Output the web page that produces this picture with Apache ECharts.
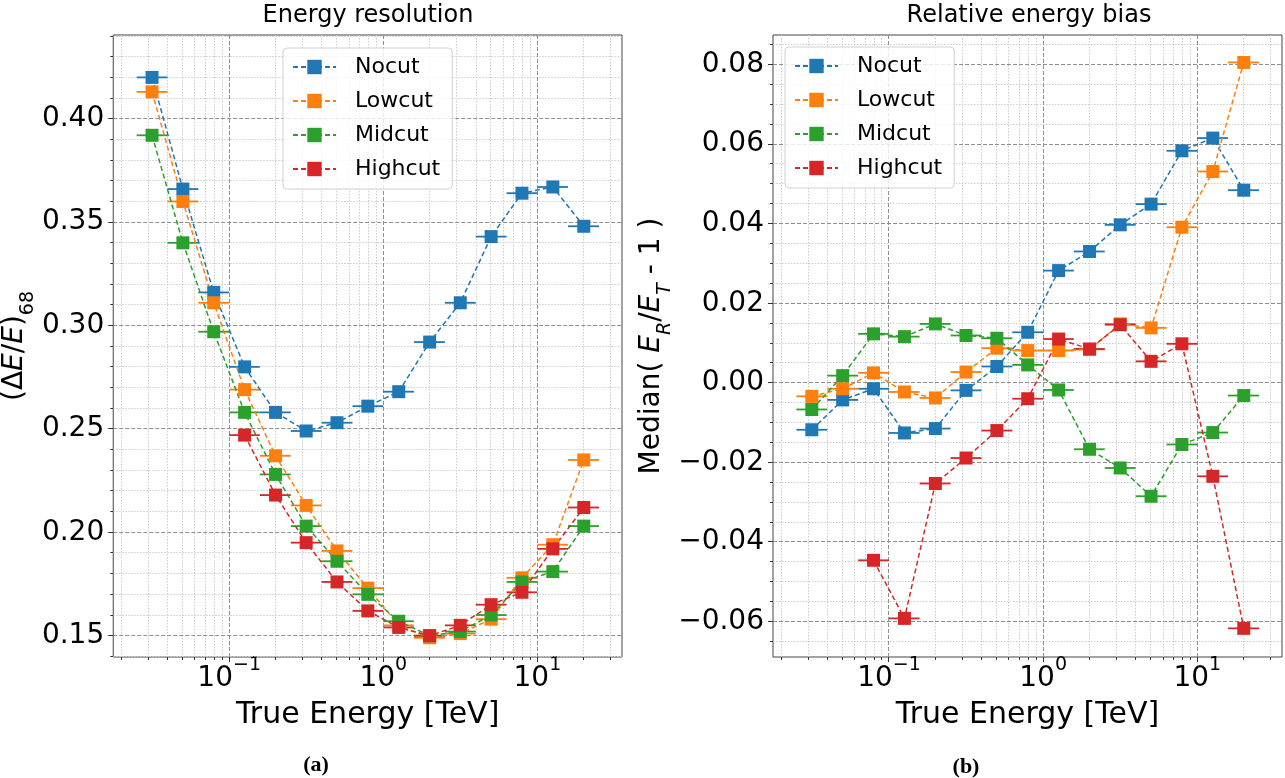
<!DOCTYPE html>
<html>
<head>
<meta charset="utf-8">
<script src="https://cdn.jsdelivr.net/npm/echarts@6/dist/echarts.min.js"></script>
<style>
  html, body { margin: 0; padding: 0; background: #fff; }
  #chart { width: 1285px; height: 778px; }
</style>
</head>
<body>
<div id="chart"></div>
<script>
// Energy bins [TeV]: centres and edges (5 bins per decade)
const binCenters = [0.0316, 0.0501, 0.0794, 0.126, 0.2, 0.316, 0.501, 0.794, 1.26, 2.0, 3.16, 5.01, 7.94, 12.6, 20.0];
const binEdges = [0.0251, 0.0398, 0.0631, 0.1, 0.158, 0.251, 0.398, 0.631, 1.0, 1.58, 2.51, 3.98, 6.31, 10.0, 15.8, 25.1];

// Energy resolution (68% containment of dE/E)
const resNocut   = [0.420, 0.366, 0.316, 0.280, 0.258, 0.249, 0.253, 0.261, 0.268, 0.292, 0.311, 0.343, 0.364, 0.367, 0.348];
const resLowcut  = [0.413, 0.360, 0.311, 0.269, 0.237, 0.213, 0.191, 0.173, 0.155, 0.149, 0.151, 0.158, 0.178, 0.194, 0.235];
const resMidcut  = [0.392, 0.340, 0.297, 0.258, 0.228, 0.203, 0.186, 0.170, 0.157, 0.150, 0.152, 0.160, 0.176, 0.181, 0.203];
const resHighcut = [null, null, null, 0.247, 0.218, 0.195, 0.176, 0.162, 0.154, 0.150, 0.155, 0.165, 0.171, 0.192, 0.212];

// Relative energy bias: median(E_R/E_T - 1)
const biasNocut   = [-0.0118, -0.0043, -0.0015, -0.0126, -0.0115, -0.0019, 0.0041, 0.0127, 0.0282, 0.0330, 0.0397, 0.0449, 0.0583, 0.0615, 0.0484];
const biasLowcut  = [-0.0034, -0.0015, 0.0025, -0.0023, -0.0038, 0.0027, 0.0087, 0.0081, 0.0081, 0.0084, 0.0148, 0.0138, 0.0391, 0.0531, 0.0805];
const biasMidcut  = [-0.0067, 0.0018, 0.0123, 0.0116, 0.0148, 0.0119, 0.0112, 0.0045, -0.0018, -0.0167, -0.0214, -0.0285, -0.0155, -0.0125, -0.0032];
const biasHighcut = [null, null, -0.0446, -0.0592, -0.0253, -0.0189, -0.0120, -0.0040, 0.0110, 0.0085, 0.0146, 0.0054, 0.0098, -0.0235, -0.0617];

const seriesNames  = ['Nocut', 'Lowcut', 'Midcut', 'Highcut'];
const seriesColors = ['#1f77b4', '#ff7f0e', '#2ca02c', '#d62728'];
const resValues  = [resNocut, resLowcut, resMidcut, resHighcut];
const biasValues = [biasNocut, biasLowcut, biasMidcut, biasHighcut];

// Axis limits
const energyRange = [0.0177, 35.4];
const resRange  = [0.1397, 0.4405];
const biasRange = [-0.0689, 0.0874];

// Ticks and tick labels
const xMajorTicks = [0.1, 1, 10];
const xTickExponents = ['\u22121', '0', '1'];
const xMinorTicks = [0.02, 0.03, 0.04, 0.05, 0.06, 0.07, 0.08, 0.09,
                     0.2, 0.3, 0.4, 0.5, 0.6, 0.7, 0.8, 0.9,
                     2, 3, 4, 5, 6, 7, 8, 9, 20, 30];
const resMajorTicks = [0.15, 0.20, 0.25, 0.30, 0.35, 0.40];
const resTickLabels = ['0.15', '0.20', '0.25', '0.30', '0.35', '0.40'];
const resMinorTicks = [0.14, 0.16, 0.17, 0.18, 0.19, 0.21, 0.22, 0.23, 0.24, 0.26, 0.27, 0.28, 0.29,
                       0.31, 0.32, 0.33, 0.34, 0.36, 0.37, 0.38, 0.39, 0.41, 0.42, 0.43, 0.44];
const biasMajorTicks = [-0.06, -0.04, -0.02, 0.00, 0.02, 0.04, 0.06, 0.08];
const biasTickLabels = ['\u22120.06', '\u22120.04', '\u22120.02', '0.00', '0.02', '0.04', '0.06', '0.08'];
const biasMinorTicks = [-0.065, -0.055, -0.05, -0.045, -0.035, -0.03, -0.025, -0.015, -0.01, -0.005,
                        0.005, 0.01, 0.015, 0.025, 0.03, 0.035, 0.045, 0.05, 0.055, 0.065, 0.07, 0.075, 0.085];

const FONT = '"DejaVu Sans"';

function nearIndex(list, v, tol) {
  for (let i = 0; i < list.length; i++) {
    if (Math.abs(list[i] - v) <= tol) return i;
  }
  return -1;
}

function energyLabel(v) {
  const i = nearIndex(xMajorTicks, v, Math.abs(v) * 1e-6);
  return i < 0 ? '' : '{b|10}{s|' + xTickExponents[i] + '}';
}

const xRich = {
  b: { fontSize: 28, fontFamily: FONT, color: '#000', lineHeight: 32, verticalAlign: 'bottom' },
  s: { fontSize: 19, fontFamily: FONT, color: '#000', lineHeight: 19, padding: [0, 0, 18, 0], verticalAlign: 'bottom' }
};

function makeLineSeries(k, values, idx) {
  const data = [];
  binCenters.forEach((x, i) => { if (values[i] !== null) data.push([x, values[i]]); });
  return {
    name: seriesNames[k], type: 'line', xAxisIndex: idx, yAxisIndex: idx, data: data,
    symbol: 'rect', symbolSize: 13, showSymbol: true,
    lineStyle: { color: seriesColors[k], width: 1.5, type: [5, 3] },
    itemStyle: { color: seriesColors[k] },
    emphasis: { disabled: true }, z: 4, animation: false
  };
}

// horizontal bars spanning each energy bin
function makeBinSeries(k, values, idx) {
  const data = [];
  binCenters.forEach((x, i) => { if (values[i] !== null) data.push([binEdges[i], binEdges[i + 1], values[i]]); });
  const color = seriesColors[k];
  return {
    name: seriesNames[k] + ' bin', type: 'custom', xAxisIndex: idx, yAxisIndex: idx, data: data,
    encode: { x: [0, 1], y: 2 }, silent: true, animation: false, z: 3,
    renderItem: function (params, api) {
      const a = api.coord([api.value(0), api.value(2)]);
      const b = api.coord([api.value(1), api.value(2)]);
      return { type: 'line', shape: { x1: a[0], y1: a[1], x2: b[0], y2: b[1] },
               style: { stroke: color, lineWidth: 1.8 } };
    }
  };
}

// grid lines and tick marks (major dashed, minor dotted)
function makeFrameSeries(idx, yRange, yMinor, yMajor) {
  return {
    type: 'custom', xAxisIndex: idx, yAxisIndex: idx, data: [[1, yMajor[1]]],
    silent: true, animation: false, z: 1, clip: false,
    renderItem: function (params, api) {
      const cs = params.coordSys;
      const L = cs.x, R = cs.x + cs.width, T = cs.y, B = cs.y + cs.height;
      const kids = [];
      const crisp = v => Math.round(v - 0.5) + 0.5;
      const seg = (x1, y1, x2, y2, style) => kids.push({ type: 'line', shape: { x1, y1, x2, y2 }, style: style });
      const minorGrid = { stroke: '#cdcdcd', lineWidth: 1, lineDash: [1.5, 1.5] };
      const majorGrid = { stroke: '#8f8f8f', lineWidth: 1, lineDash: [4, 2] };
      const tick = { stroke: '#333', lineWidth: 1 };
      xMinorTicks.forEach(v => { const x = crisp(api.coord([v, yRange[0]])[0]); seg(x, T, x, B, minorGrid); seg(x, B, x, B + 3, tick); });
      yMinor.forEach(v => { const y = crisp(api.coord([energyRange[0], v])[1]); seg(L, y, R, y, minorGrid); seg(L - 3, y, L, y, tick); });
      xMajorTicks.forEach(v => { const x = crisp(api.coord([v, yRange[0]])[0]); seg(x, T, x, B, majorGrid); seg(x, B, x, B + 5, tick); });
      yMajor.forEach(v => { const y = crisp(api.coord([energyRange[0], v])[1]); seg(L, y, R, y, majorGrid); seg(L - 5, y, L, y, tick); });
      return { type: 'group', children: kids };
    }
  };
}

const series = [makeFrameSeries(0, resRange, resMinorTicks, resMajorTicks),
                makeFrameSeries(1, biasRange, biasMinorTicks, biasMajorTicks)];
for (let k = 0; k < 4; k++) {
  series.push(makeBinSeries(k, resValues[k], 0));
  series.push(makeLineSeries(k, resValues[k], 0));
}
for (let k = 0; k < 4; k++) {
  series.push(makeBinSeries(k, biasValues[k], 1));
  series.push(makeLineSeries(k, biasValues[k], 1));
}

function xAxisFor(idx) {
  return {
    type: 'log', logBase: 10, gridIndex: idx, min: energyRange[0], max: energyRange[1], splitNumber: 3,
    axisLine: { show: false }, axisTick: { show: false }, splitLine: { show: false }, minorTick: { show: false },
    axisLabel: { margin: 4, formatter: energyLabel, rich: xRich },
    name: 'True Energy [TeV]', nameLocation: 'middle', nameGap: 37,
    nameTextStyle: { fontSize: 30, fontFamily: FONT, color: '#000', lineHeight: 34 }
  };
}

const nameRich = {
  n:   { fontSize: 28, fontFamily: FONT, color: '#000', lineHeight: 36, verticalAlign: 'top' },
  i:   { fontSize: 28, fontFamily: FONT, fontStyle: 'italic', color: '#000', lineHeight: 36, verticalAlign: 'top' },
  sub: { fontSize: 19, fontFamily: FONT, color: '#000', lineHeight: 19, padding: [18, 0, 0, 0], verticalAlign: 'top' },
  si:  { fontSize: 19, fontFamily: FONT, fontStyle: 'italic', color: '#000', lineHeight: 19, padding: [18, 0, 0, 0], verticalAlign: 'top' }
};

function legendFor(left, top) {
  return {
    data: seriesNames, orient: 'vertical', left: left, top: top,
    itemWidth: 43, itemHeight: 18, itemGap: 10, padding: [7, 12, 8, 9],
    borderColor: '#d0d0d0', borderWidth: 1, borderRadius: 4, backgroundColor: 'rgba(255,255,255,0.8)',
    textStyle: { fontSize: 22, fontFamily: FONT, color: '#000', lineHeight: 24, padding: [0, 0, 0, 14] },
    selectedMode: false
  };
}

const option = {
  animation: false,
  textStyle: { fontFamily: FONT },
  grid: [
    { left: 113, top: 35, width: 509, height: 622, show: true, borderColor: '#444', borderWidth: 1, backgroundColor: 'transparent' },
    { left: 773, top: 35, width: 511, height: 622, show: true, borderColor: '#444', borderWidth: 1, backgroundColor: 'transparent' }
  ],
  xAxis: [xAxisFor(0), xAxisFor(1)],
  yAxis: [
    {
      type: 'value', gridIndex: 0, min: resRange[0], max: resRange[1], splitNumber: 6,
      axisLine: { show: false }, axisTick: { show: false }, splitLine: { show: false },
      axisLabel: { fontSize: 28, fontFamily: FONT, color: '#000', margin: 9, padding: [4, 0, 0, 0],
        formatter: v => { const i = nearIndex(resMajorTicks, v, 1e-6); return i < 0 ? '' : resTickLabels[i]; } },
      name: '{n|(\u0394}{i|E}{n|/}{i|E}{n|)}{sub|68}', nameLocation: 'middle', nameGap: 72,
      nameTextStyle: { rich: nameRich }
    },
    {
      type: 'value', gridIndex: 1, min: biasRange[0], max: biasRange[1], splitNumber: 8,
      axisLine: { show: false }, axisTick: { show: false }, splitLine: { show: false },
      axisLabel: { fontSize: 28, fontFamily: FONT, color: '#000', margin: 9, padding: [4, 0, 0, 0],
        formatter: v => { const i = nearIndex(biasMajorTicks, v, 1e-7); return i < 0 ? '' : biasTickLabels[i]; } },
      name: '{n|Median( }{i|E}{si|R}{n|/}{i|E}{si|T}{n| - 1 )}', nameLocation: 'middle', nameGap: 94,
      nameTextStyle: { rich: nameRich }
    }
  ],
  legend: [legendFor(283, 48), legendFor(785, 47)],
  graphic: [
    { type: 'text', x: 368, y: 16, style: { text: 'Energy resolution', fontSize: 24, fontFamily: FONT, fill: '#000', align: 'center', verticalAlign: 'middle' } },
    { type: 'text', x: 1029, y: 16, style: { text: 'Relative energy bias', fontSize: 24, fontFamily: FONT, fill: '#000', align: 'center', verticalAlign: 'middle' } },
    { type: 'text', x: 316, y: 765, style: { text: '(a)', fontSize: 22, fontWeight: 'bold', fontFamily: '"Liberation Serif"', fill: '#000', align: 'center', verticalAlign: 'middle' } },
    { type: 'text', x: 966, y: 767, style: { text: '(b)', fontSize: 22, fontWeight: 'bold', fontFamily: '"Liberation Serif"', fill: '#000', align: 'center', verticalAlign: 'middle' } }
  ],
  series: series
};

const chart = echarts.init(document.getElementById('chart'), null, { renderer: 'canvas' });
chart.setOption(option);
</script>
</body>
</html>
